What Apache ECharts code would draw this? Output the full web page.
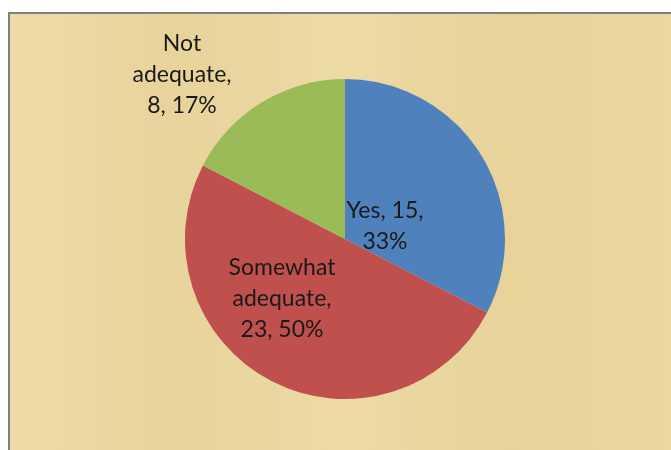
<!DOCTYPE html>
<html>
<head>
<meta charset="utf-8">
<script src="https://cdn.jsdelivr.net/npm/echarts@6/dist/echarts.min.js"></script>
<style>
html,body{margin:0;padding:0;background:#fff;}
#c{width:671px;height:450px;}
</style>
</head>
<body>
<div id="c"></div>
<script>
const categories = ['Yes', 'Somewhat adequate', 'Not adequate'];
const values = [15, 23, 8];
const percents = ['33%', '50%', '17%'];
const labelTexts = ['Yes, 15,\n33%', 'Somewhat\nadequate,\n23, 50%', 'Not\nadequate,\n8, 17%'];
const colors = ['#4f81bd', '#c0504d', '#9bbb59'];

const labelPos = [[385, 226], [282, 299], [182, 75]];

const chart = echarts.init(document.getElementById('c'), null, {renderer: 'canvas'});
chart.setOption({
  backgroundColor: '#ffffff',
  animation: false,
  graphic: [
    {type: 'rect', shape: {x: 9, y: 13, width: 670, height: 445},
     style: {fill: '#ead6a0', stroke: '#7f7f7f', lineWidth: 2}, z: -10},
    {type: 'rect', shape: {x: 10, y: 14, width: 670, height: 445},
     style: {fill: new echarts.graphic.LinearGradient(0, 0, 1, 0, [
       {offset: 0, color: 'rgba(240,222,172,0.6)'},
       {offset: 0.25, color: 'rgba(230,208,150,0.5)'},
       {offset: 0.5, color: 'rgba(238,220,168,0.6)'},
       {offset: 0.75, color: 'rgba(228,206,148,0.5)'},
       {offset: 1, color: 'rgba(236,216,160,0.6)'}
     ])}, z: -9}
  ],
  series: [{
    type: 'pie',
    center: [345, 239],
    radius: [0, 160],
    startAngle: 90,
    clockwise: true,
    silent: true,
    data: categories.map((c, i) => ({
      name: c, value: values[i],
      itemStyle: {color: colors[i]},
      label: {formatter: labelTexts[i]}
    })),
    itemStyle: {borderWidth: 0},
    label: {
      show: true,
      position: 'inside',
      color: '#1a1a1a',
      fontFamily: 'Lato',
      fontSize: 23,
      lineHeight: 31,
      align: 'center'
    },
    labelLine: {show: false},
    labelLayout: function (p) {
      const pos = labelPos[p.dataIndex];
      return {x: pos[0], y: pos[1], align: 'center', verticalAlign: 'middle'};
    }
  }]
});
</script>
</body>
</html>
